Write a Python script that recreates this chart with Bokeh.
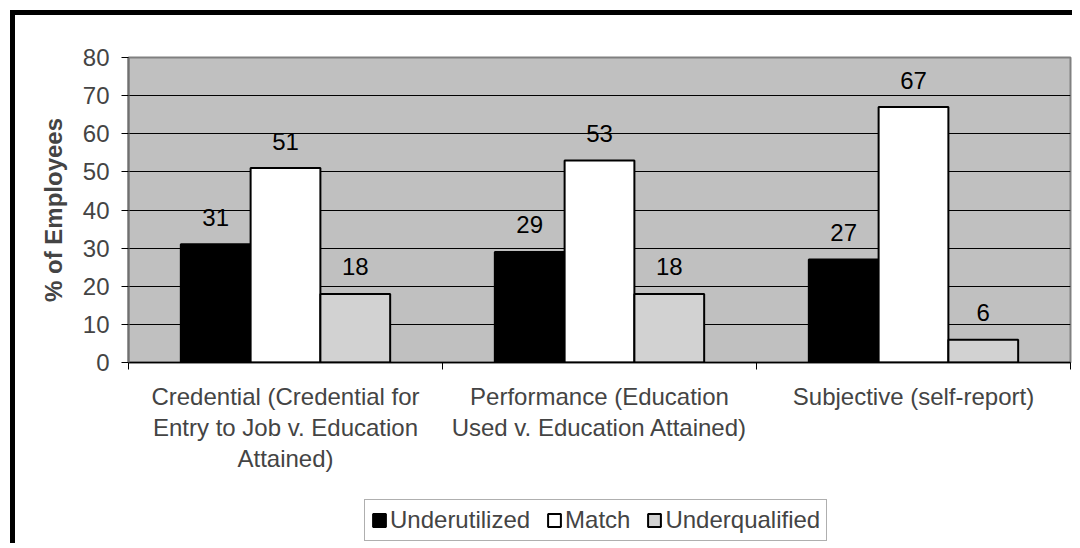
from bokeh.plotting import figure
from bokeh.layouts import column
from bokeh.models import (Range1d, FixedTicker, LinearAxis, Legend, LegendItem,
                          ColumnDataSource)
from bokeh.core.properties import value
from bokeh.embed import file_html
from bokeh.resources import INLINE

# ---------------- data ----------------
categories = [
    ["Credential (Credential for", "Entry to Job v. Education", "Attained)"],
    ["Performance (Education", "Used v. Education Attained)", ""],
    ["Subjective (self-report)", "", ""],
]
series_names = ["Underutilized", "Match", "Underqualified"]
underutilized = [31, 29, 27]
match = [51, 53, 67]
underqualified = [18, 18, 6]
y_ticks = [0, 10, 20, 30, 40, 50, 60, 70, 80]
y_label = "% of Employees"

FONT = "Liberation Sans"
FS = "24px"

p = figure(width=1057, height=480, frame_width=942, frame_height=305,
           x_range=Range1d(0, len(categories)), y_range=Range1d(0, 80),
           output_backend="svg", toolbar_location=None,
           min_border_left=113, min_border_right=2, min_border_top=42,
           min_border_bottom=133, x_axis_location=None, y_axis_location=None)

p.background_fill_color = "#c0c0c0"
p.border_fill_color = "white"
p.outline_line_color = "#808080"
p.outline_line_width = 2

# y axis
yax = LinearAxis(ticker=FixedTicker(ticks=y_ticks))
yax.axis_label = y_label
yax.axis_label_text_font = FONT
yax.axis_label_text_font_size = FS
yax.axis_label_text_font_style = "bold"
yax.axis_label_standoff = 13
yax.major_label_text_font = FONT
yax.major_label_text_font_size = FS
yax.major_label_standoff = 12
yax.major_tick_out = 7
yax.major_tick_in = 0
yax.major_tick_line_color = "black"
yax.minor_tick_line_color = None
yax.axis_line_color = "#707070"
yax.axis_line_width = 2
p.add_layout(yax, "left")

# x axes: one per text line of the category labels
centers = [i + 0.5 for i in range(len(categories))]
bounds = [float(i) for i in range(len(categories) + 1)]
for line in range(3):
    ax = LinearAxis(ticker=FixedTicker(ticks=centers,
                                       minor_ticks=bounds if line == 0 else []))
    ax.major_label_overrides = {c: categories[i][line] for i, c in enumerate(centers)}
    ax.major_label_text_font = FONT
    ax.major_label_text_font_size = FS
    ax.major_tick_line_color = None
    ax.major_tick_out = 0
    ax.major_tick_in = 0
    if line == 0:
        ax.minor_tick_line_color = "black"
        ax.minor_tick_out = 7
        ax.minor_tick_in = 0
        ax.axis_line_color = "black"
        ax.axis_line_width = 1.5
        ax.major_label_standoff = 13
    else:
        ax.minor_tick_line_color = None
        ax.axis_line_color = None
        ax.major_label_standoff = 1
    p.add_layout(ax, "below")

# grid
p.xgrid.visible = False
p.ygrid.ticker = FixedTicker(ticks=[10, 20, 30, 40, 50, 60, 70])
p.ygrid.grid_line_color = "black"
p.ygrid.grid_line_width = 1

# bars
bw = 1 / 4.5
offsets = [-bw, 0, bw]
fills = ["black", "white", "#d2d2d2"]
sources = []
for k, vals in enumerate([underutilized, match, underqualified]):
    xs = [c + offsets[k] for c in centers]
    src = ColumnDataSource(dict(x=xs, top=vals, lbl=[str(v) for v in vals]))
    sources.append(src)
    p.vbar(x="x", top="top", bottom=0, width=bw, source=src,
           fill_color=fills[k], line_color="black", line_width=2)
    p.text(x="x", y="top", text="lbl", source=src, y_offset=-27,
           text_align="center", text_baseline="alphabetic",
           text_font=value(FONT), text_font_size=FS, text_color="black")

# legend strip (separate figure below the chart; its renderers are hidden)
lg = figure(width=1057, height=48, x_range=Range1d(0, len(categories)),
            y_range=Range1d(0, 80),
            output_backend="svg", toolbar_location=None,
            min_border=0, x_axis_location=None, y_axis_location=None)
lg.grid.visible = False
lg.outline_line_color = None
lg.background_fill_color = "white"
lg.border_fill_color = "white"
items = []
for k, name in enumerate(series_names):
    r = lg.vbar(x="x", top="top", bottom=0, width=bw, source=sources[k],
                fill_color=fills[k], line_color="black", line_width=2)
    r.visible = False
    items.append(LegendItem(label=name, renderers=[r]))

legend = Legend(items=items, orientation="horizontal", location=(236, 2))
legend.label_text_font = FONT
legend.label_text_font_size = FS
legend.glyph_width = 16
legend.glyph_height = 16
legend.label_standoff = 3
legend.spacing = 16
legend.padding = 6
legend.margin = 0
legend.inactive_fill_alpha = 0
legend.border_line_color = "#606060"
legend.border_line_width = 1
legend.background_fill_color = "white"
lg.add_layout(legend, "center")

page = column(p, lg, spacing=0)
page.styles = {"margin-left": "10px", "margin-top": "10px",
               "border-left": "5px solid black", "border-top": "5px solid black"}

open("out.html", "w").write(file_html(page, INLINE))
